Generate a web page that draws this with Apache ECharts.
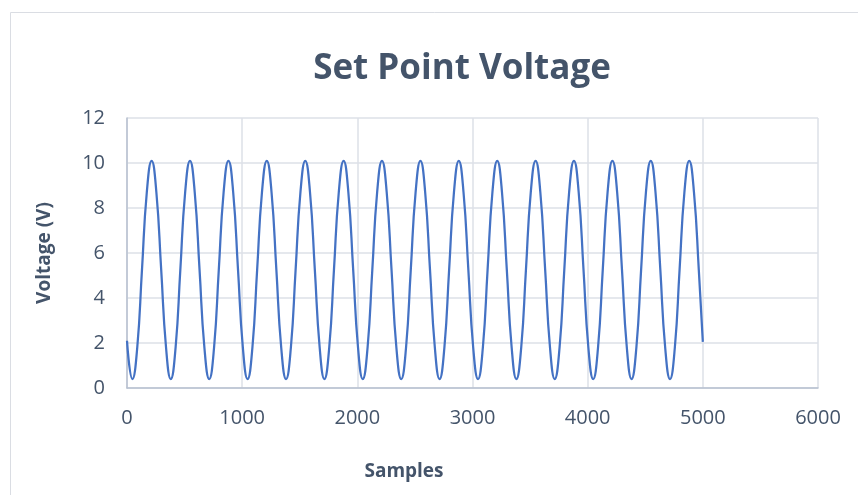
<!DOCTYPE html>
<html>
<head>
<meta charset="utf-8">
<script src="https://cdn.jsdelivr.net/npm/echarts@6/dist/echarts.min.js"></script>
<style>
html,body{margin:0;padding:0;background:#fff;}
#c{width:858px;height:495px;}
</style>
</head>
<body>
<div id="c"></div>
<script>
const titleText = 'Set Point Voltage';
const xName = 'Samples';
const yName = 'Voltage (V)';
const xTicks = [0, 1000, 2000, 3000, 4000, 5000, 6000];
const yTicks = [0, 2, 4, 6, 8, 10, 12];

// Sample index
const samples = [
  0,
  47, 89, 130, 172, 214, 255, 297, 339,
  380, 422, 463, 505, 547, 588, 630, 672,
  714, 756, 797, 839, 881, 922, 964, 1006,
  1047, 1089, 1130, 1172, 1214, 1255, 1297, 1339,
  1381, 1423, 1464, 1506, 1548, 1589, 1631, 1673,
  1714, 1756, 1797, 1839, 1881, 1922, 1964, 2006,
  2047, 2089, 2130, 2172, 2214, 2255, 2297, 2339,
  2381, 2423, 2464, 2506, 2548, 2589, 2631, 2673,
  2714, 2756, 2797, 2839, 2881, 2922, 2964, 3006,
  3048, 3090, 3131, 3173, 3215, 3256, 3298, 3340,
  3381, 3423, 3464, 3506, 3548, 3589, 3631, 3673,
  3714, 3756, 3797, 3839, 3881, 3922, 3964, 4006,
  4048, 4090, 4131, 4173, 4215, 4256, 4298, 4340,
  4381, 4423, 4464, 4506, 4548, 4589, 4631, 4673,
  4715, 4757, 4798, 4840, 4882, 4923, 4965, 5000
];
// Voltage
const voltage = [
  2.1,
  0.4, 1.8, 5.25, 8.7, 10.1, 8.7, 5.25, 1.8,
  0.4, 1.8, 5.25, 8.7, 10.1, 8.7, 5.25, 1.8,
  0.4, 1.8, 5.25, 8.7, 10.1, 8.7, 5.25, 1.8,
  0.4, 1.8, 5.25, 8.7, 10.1, 8.7, 5.25, 1.8,
  0.4, 1.8, 5.25, 8.7, 10.1, 8.7, 5.25, 1.8,
  0.4, 1.8, 5.25, 8.7, 10.1, 8.7, 5.25, 1.8,
  0.4, 1.8, 5.25, 8.7, 10.1, 8.7, 5.25, 1.8,
  0.4, 1.8, 5.25, 8.7, 10.1, 8.7, 5.25, 1.8,
  0.4, 1.8, 5.25, 8.7, 10.1, 8.7, 5.25, 1.8,
  0.4, 1.8, 5.25, 8.7, 10.1, 8.7, 5.25, 1.8,
  0.4, 1.8, 5.25, 8.7, 10.1, 8.7, 5.25, 1.8,
  0.4, 1.8, 5.25, 8.7, 10.1, 8.7, 5.25, 1.8,
  0.4, 1.8, 5.25, 8.7, 10.1, 8.7, 5.25, 1.8,
  0.4, 1.8, 5.25, 8.7, 10.1, 8.7, 5.25, 1.8,
  0.4, 1.8, 5.25, 8.7, 10.1, 8.7, 5.25, 2.05
];

const data = samples.map((s, i) => [s, voltage[i]]);
const textColor = '#44546a';
const font = '"Open Sans", "Noto Sans", sans-serif';

const chart = echarts.init(document.getElementById('c'), null, {renderer: 'canvas'});
chart.setOption({
  animation: false,
  backgroundColor: '#ffffff',
  grid: {left: 127, right: 40, top: 118, bottom: 107, containLabel: false},
  xAxis: {
    type: 'value',
    min: xTicks[0], max: xTicks[xTicks.length - 1], interval: xTicks[1] - xTicks[0],
    axisLine: {show: true, lineStyle: {color: '#b7c0cf', width: 1.5}},
    axisTick: {show: false},
    axisLabel: {color: textColor, fontSize: 20, fontFamily: font, margin: 20,
      formatter: v => String(v)},
    splitLine: {show: true, lineStyle: {color: '#dde1e7', width: 1.5}}
  },
  yAxis: {
    type: 'value',
    min: yTicks[0], max: yTicks[yTicks.length - 1], interval: yTicks[1] - yTicks[0],
    axisLine: {show: true, lineStyle: {color: '#b7c0cf', width: 1.5}},
    axisTick: {show: false},
    axisLabel: {color: textColor, fontSize: 20, fontFamily: font, margin: 22,
      formatter: v => String(v)},
    splitLine: {show: true, lineStyle: {color: '#dde1e7', width: 1.5}}
  },
  graphic: [
    {type: 'rect', z: -10, shape: {x: 10.5, y: 12.5, width: 900, height: 600},
     style: {fill: 'none', stroke: '#dadde3', lineWidth: 1}},
    {type: 'text', x: 462, y: 69, style: {text: titleText, fill: textColor,
      font: 'bold 35px ' + font, textAlign: 'center', textVerticalAlign: 'middle'}},
    {type: 'text', x: 404, y: 472, style: {text: xName, fill: textColor,
      font: 'bold 19px ' + font, textAlign: 'center', textVerticalAlign: 'middle'}},
    {type: 'text', x: 45, y: 253, rotation: Math.PI / 2, style: {text: yName, fill: textColor,
      font: 'bold 19px ' + font, textAlign: 'center', textVerticalAlign: 'middle'}}
  ],
  series: [{
    type: 'line',
    data: data,
    smooth: 0.5,
    showSymbol: false,
    lineStyle: {color: '#4472c4', width: 2.25},
    itemStyle: {color: '#4472c4'}
  }]
});
</script>
</body>
</html>
